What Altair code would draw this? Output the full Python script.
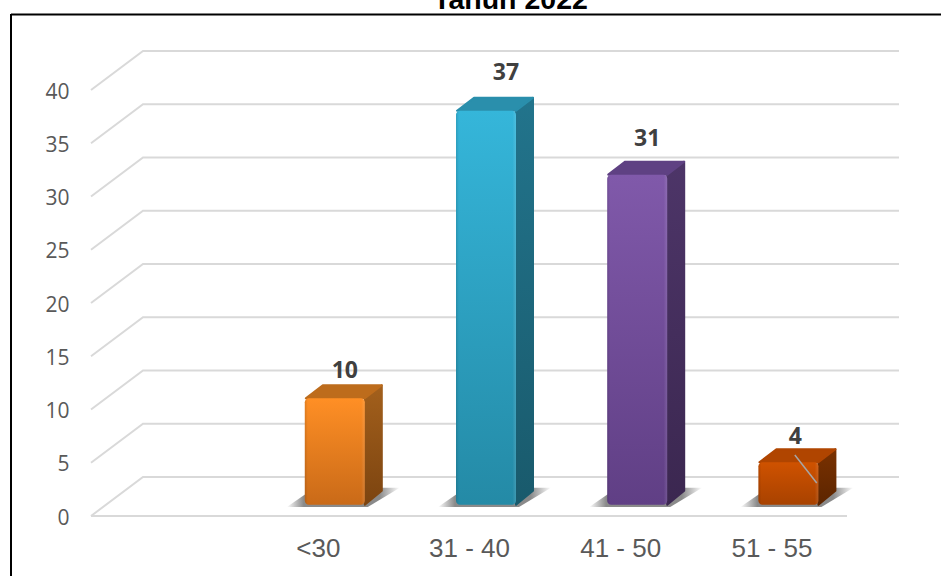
import altair as alt
import pandas as pd

# Chart values
categories = ["<30", "31 - 40", "41 - 50", "51 - 55"]
values = [10, 37, 31, 4]
y_ticks = [0, 5, 10, 15, 20, 25, 30, 35, 40]
chart_title = "Tahun 2022"

# Face colours per bar: (front top, front bottom, side top, side bottom, top face)
palette = [
    ("#ff8f25", "#c96a18", "#a3601c", "#7c4410", "#bd6c1c"),
    ("#35b6da", "#248aa6", "#22748c", "#195a6c", "#2a8fac"),
    ("#8059aa", "#603f85", "#4d3568", "#3b2750", "#5f4183"),
    ("#cf5200", "#a84200", "#7a3100", "#5c2500", "#b04500"),
]

# Pseudo-3D geometry, in axis units (one x unit is one category slot)
SLOT_PX = 151.2
UNIT_PX = 10.65
FLOOR_DX, FLOOR_DY = 52 / SLOT_PX, 39 / UNIT_PX
BAR_HALF = 30 / SLOT_PX
BAR_SHIFT = 17 / SLOT_PX
BAR_BASE = 11.2 / UNIT_PX
DEPTH_DX, DEPTH_DY = 18 / SLOT_PX, 14 / UNIT_PX

x_scale = alt.Scale(domain=[-1.5, 3.5], nice=False, zero=False)
y_scale = alt.Scale(domain=[0, 40], nice=False)

# Both axes are declared once and shared by every layer
label_expr = "[" + ",".join(f"'{c}'" for c in categories) + "][datum.value]"
x_axis = alt.Axis(
    values=list(range(len(categories))), labelExpr=label_expr, title=None, grid=False,
    domain=False, ticks=False, labelFont="Liberation Sans", labelFontSize=26,
    labelColor="#595959", labelPadding=19, labelFlush=False,
)
y_axis = alt.Axis(
    values=y_ticks, title=None, grid=False, domain=False, ticks=False,
    labelFont="Open Sans", labelFontSize=21, labelColor="#595959", labelPadding=22,
    labelOffset=2,
)
X = lambda field: alt.X(field, type="quantitative", scale=x_scale, axis=x_axis)
Y = lambda field: alt.Y(field, type="quantitative", scale=y_scale, axis=y_axis)


def gradient(top, bottom):
    return alt.Gradient(
        gradient="linear", x1=0, y1=0, x2=0, y2=1,
        stops=[alt.GradientStop(color=top, offset=0), alt.GradientStop(color=bottom, offset=1)],
    )


# Gridlines run across the back wall and fold forward down the left side wall
grid_rows = []
for v in y_ticks:
    grid_rows += [
        {"v": v, "o": 0, "x": -1.5, "y": v},
        {"v": v, "o": 1, "x": -1.5 + FLOOR_DX, "y": v + FLOOR_DY},
        {"v": v, "o": 2, "x": 3.5 + FLOOR_DX, "y": v + FLOOR_DY},
    ]
grid_rows += [{"v": -1, "o": 0, "x": -1.5, "y": 0}, {"v": -1, "o": 1, "x": 3.5, "y": 0}]
grid = alt.Chart(pd.DataFrame(grid_rows)).mark_line(color="#d9d9d9", strokeWidth=2).encode(
    x=X("x"), y=Y("y"), detail="v:N", order="o:Q"
)

layers = [grid]

# Horizontal sheen laid over each front face: darker left rim, lighter right rim
sheen = alt.Gradient(
    gradient="linear", x1=0, y1=0, x2=1, y2=0,
    stops=[
        alt.GradientStop(color="rgba(0,0,0,0.12)", offset=0),
        alt.GradientStop(color="rgba(0,0,0,0)", offset=0.05),
        alt.GradientStop(color="rgba(255,255,255,0)", offset=0.94),
        alt.GradientStop(color="rgba(255,255,255,0.12)", offset=1),
    ],
)

for i, (value, colors) in enumerate(zip(values, palette)):
    c_top, c_bottom, s_top, s_bottom, t_face = colors
    left = i + BAR_SHIFT - BAR_HALF
    right = i + BAR_SHIFT + BAR_HALF
    top = BAR_BASE + value

    # Soft drop shadow on the floor
    shadow = pd.DataFrame([
        {"y": BAR_BASE - 0.2, "x": left - 18 / SLOT_PX, "x2": right + 3 / SLOT_PX},
        {"y": BAR_BASE + 1.6, "x": left + 10 / SLOT_PX, "x2": right + 35 / SLOT_PX},
    ])
    layers.append(
        alt.Chart(shadow).mark_area(
            orient="horizontal",
            color=alt.Gradient(
                gradient="linear", x1=0, y1=0, x2=1, y2=0,
                stops=[
                    alt.GradientStop(color="#ffffff", offset=0),
                    alt.GradientStop(color="#8a8a8a", offset=0.15),
                    alt.GradientStop(color="#8a8a8a", offset=0.82),
                    alt.GradientStop(color="#ffffff", offset=1),
                ],
            ),
        ).encode(y=Y("y"), x=X("x"), x2="x2")
    )

    # Right side face, outlined so its corners look rounded
    side_fill = gradient(s_top, s_bottom)
    side = pd.DataFrame([
        {"x": right, "y": BAR_BASE, "y2": top},
        {"x": right + DEPTH_DX - 1 / SLOT_PX, "y": BAR_BASE + DEPTH_DY, "y2": top + DEPTH_DY - 1 / UNIT_PX},
    ])
    layers.append(
        alt.Chart(side).mark_area(
            color=side_fill, stroke=side_fill, strokeWidth=2, strokeJoin="round"
        ).encode(x=X("x"), y=Y("y"), y2="y2")
    )

    # Top face
    cap = pd.DataFrame([
        {"y": top, "x": left + 1 / SLOT_PX, "x2": right},
        {"y": top + DEPTH_DY - 1 / UNIT_PX, "x": left + DEPTH_DX, "x2": right + DEPTH_DX - 1 / SLOT_PX},
    ])
    layers.append(
        alt.Chart(cap).mark_area(
            orient="horizontal", color=t_face, stroke=t_face, strokeWidth=2, strokeJoin="round"
        ).encode(y=Y("y"), x=X("x"), x2="x2")
    )

    # Front face with its sheen
    front = pd.DataFrame([{"x": left, "x2": right, "y": BAR_BASE, "y2": top}])
    layers.append(
        alt.Chart(front).mark_rect(
            color=gradient(c_top, c_bottom), cornerRadius=4
        ).encode(x=X("x"), x2="x2", y=Y("y"), y2="y2")
    )
    layers.append(
        alt.Chart(front).mark_rect(color=sheen, cornerRadius=4).encode(
            x=X("x"), x2="x2", y=Y("y"), y2="y2"
        )
    )

# Leader line left behind by the smallest bar's moved label
leader = pd.DataFrame({"x": [3.155, 3.30], "y": [5.73, 3.1]})
layers.append(alt.Chart(leader).mark_line(color="#a6a6a6", strokeWidth=1.5).encode(x=X("x"), y=Y("y")))

# Value labels, each nudged by hand off its bar
label_nudge = [(27, -27), (37, -38), (27, -36), (24, -25)]
for i, (value, (dx, dy)) in enumerate(zip(values, label_nudge)):
    row = pd.DataFrame([{"x": i, "y": BAR_BASE + value, "t": str(value)}])
    layers.append(
        alt.Chart(row).mark_text(
            font="Open Sans", fontWeight="bold", fontSize=23, color="#404040",
            dx=dx, dy=dy, baseline="middle", align="center",
        ).encode(x=X("x"), y=Y("y"), text="t:N")
    )

# Outer frame and the heading that sits on top of it
frame_top = alt.Chart(pd.DataFrame({"a": [0]})).mark_rule(color="#000000", strokeWidth=2).encode(
    x=alt.value(-80), x2=alt.value(860), y=alt.value(-75.5)
)
frame_left = alt.Chart(pd.DataFrame({"a": [0]})).mark_rule(color="#000000", strokeWidth=2).encode(
    x=alt.value(-80), y=alt.value(-76), y2=alt.value(500)
)
heading = alt.Chart(pd.DataFrame({"t": [chart_title]})).mark_text(
    font="Liberation Sans", fontWeight="bold", fontSize=28.5, color="#000000",
    baseline="alphabetic", align="center",
).encode(x=alt.value(419.5), y=alt.value(-81), text="t:N")
layers += [frame_top, frame_left, heading]

chart = alt.layer(*layers).properties(
    width=756,
    height=426,
    padding={"left": 91, "top": 90, "right": 94, "bottom": 60},
    autosize=alt.AutoSizeParams(type="none"),
    background="#ffffff",
).configure_view(stroke=None)

chart.save("out.html", embed_options={"renderer": "svg", "actions": False})
